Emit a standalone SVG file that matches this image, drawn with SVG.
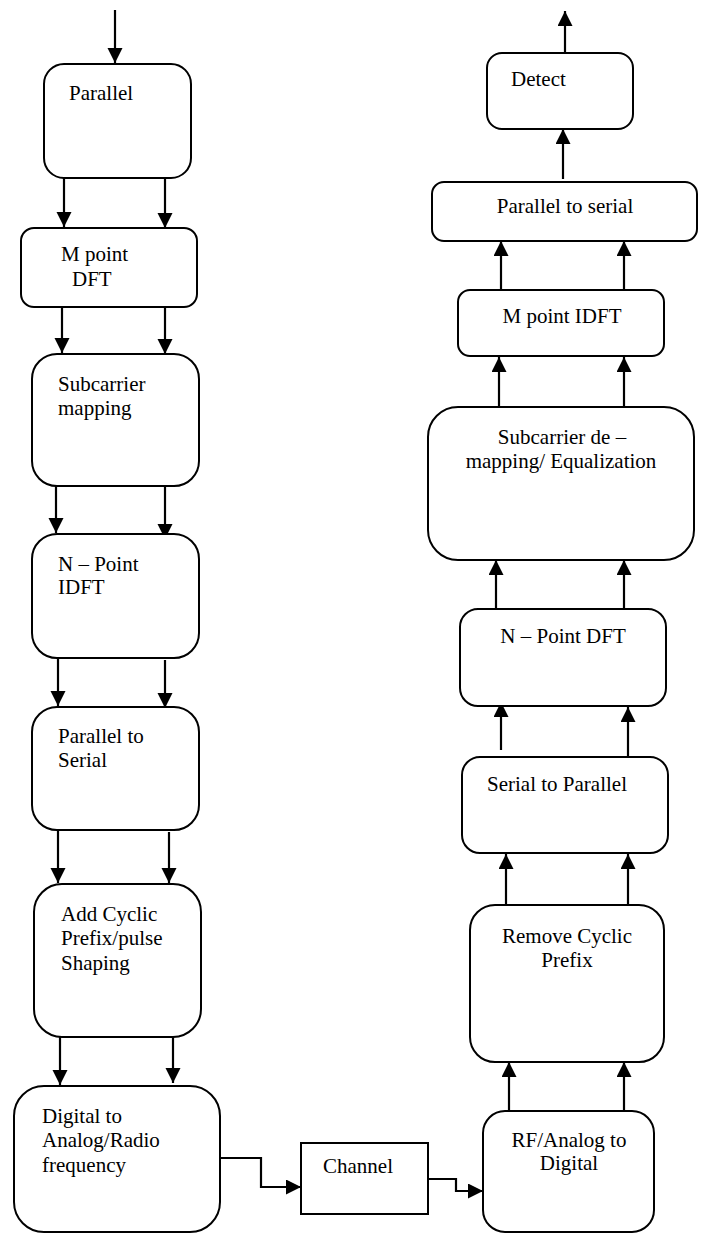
<svg xmlns="http://www.w3.org/2000/svg" width="704" height="1234" viewBox="0 0 704 1234">
<style>
.box{fill:#fff;stroke:#000;stroke-width:2}
.t{font-family:"Liberation Serif","Times New Roman",serif;font-size:21px;fill:#000}
.c{text-anchor:middle}
.ln{fill:none;stroke:#000;stroke-width:2.2}
</style>
<defs>
<marker id="ah" markerUnits="userSpaceOnUse" markerWidth="16" markerHeight="16" refX="15" refY="7.5" orient="auto">
<path d="M0,0 L15,7.5 L0,15 z" fill="#000"/>
</marker>
</defs>
<rect width="704" height="1234" fill="#fff"/>

<g id="connectors" class="conn">
<line class="ln" x1="115" y1="10" x2="115" y2="63" marker-end="url(#ah)"/>
<line class="ln" x1="64" y1="174" x2="64" y2="227" marker-end="url(#ah)"/>
<line class="ln" x1="165" y1="178" x2="165" y2="228" marker-end="url(#ah)"/>
<line class="ln" x1="62" y1="307" x2="62" y2="353" marker-end="url(#ah)"/>
<line class="ln" x1="165" y1="307" x2="165" y2="354" marker-end="url(#ah)"/>
<line class="ln" x1="56" y1="486" x2="56" y2="533" marker-end="url(#ah)"/>
<line class="ln" x1="165" y1="486" x2="165" y2="539" marker-end="url(#ah)"/>
<line class="ln" x1="58" y1="655" x2="58" y2="706" marker-end="url(#ah)"/>
<line class="ln" x1="165" y1="660" x2="165" y2="708" marker-end="url(#ah)"/>
<line class="ln" x1="58" y1="830" x2="58" y2="883" marker-end="url(#ah)"/>
<line class="ln" x1="169" y1="832" x2="169" y2="883" marker-end="url(#ah)"/>
<line class="ln" x1="60" y1="1037" x2="60" y2="1085" marker-end="url(#ah)"/>
<line class="ln" x1="173" y1="1033" x2="173" y2="1083" marker-end="url(#ah)"/>
<polyline class="ln" points="220,1158 261,1158 261,1187 301,1187" marker-end="url(#ah)"/>
<polyline class="ln" points="428,1179 456,1179 456,1191 483,1191" marker-end="url(#ah)"/>
<line class="ln" x1="509" y1="1110" x2="509" y2="1062" marker-end="url(#ah)"/>
<line class="ln" x1="624" y1="1110" x2="624" y2="1062" marker-end="url(#ah)"/>
<line class="ln" x1="506" y1="905" x2="506" y2="854" marker-end="url(#ah)"/>
<line class="ln" x1="628" y1="905" x2="628" y2="854" marker-end="url(#ah)"/>
<line class="ln" x1="501" y1="750" x2="501" y2="702" marker-end="url(#ah)"/>
<line class="ln" x1="628" y1="757" x2="628" y2="707" marker-end="url(#ah)"/>
<line class="ln" x1="496" y1="608" x2="496" y2="560" marker-end="url(#ah)"/>
<line class="ln" x1="624" y1="608" x2="624" y2="560" marker-end="url(#ah)"/>
<line class="ln" x1="499" y1="407" x2="499" y2="357" marker-end="url(#ah)"/>
<line class="ln" x1="624" y1="407" x2="624" y2="357" marker-end="url(#ah)"/>
<line class="ln" x1="501" y1="290" x2="501" y2="241" marker-end="url(#ah)"/>
<line class="ln" x1="624" y1="290" x2="624" y2="241" marker-end="url(#ah)"/>
<line class="ln" x1="563" y1="179" x2="563" y2="129" marker-end="url(#ah)"/>
<line class="ln" x1="565" y1="52" x2="565" y2="11" marker-end="url(#ah)"/>
</g>

<g id="n-parallel">
<rect class="box" x="44" y="64" width="147" height="114" rx="20"/>
<text class="t" x="69" y="100">Parallel</text>
</g>
<g id="n-mdft">
<rect class="box" x="21" y="228" width="176" height="79" rx="13"/>
<text class="t" x="61" y="261">M point</text>
<text class="t" x="72" y="286">DFT</text>
</g>
<g id="n-submap">
<rect class="box" x="32" y="354" width="167" height="132" rx="25"/>
<text class="t" x="58" y="391">Subcarrier</text>
<text class="t" x="58" y="415">mapping</text>
</g>
<g id="n-nidft">
<rect class="box" x="32" y="534" width="167" height="124" rx="25"/>
<text class="t" x="58" y="571">N – Point</text>
<text class="t" x="58" y="594">IDFT</text>
</g>
<g id="n-p2s">
<rect class="box" x="32" y="707" width="167" height="123" rx="25"/>
<text class="t" x="58" y="743">Parallel to</text>
<text class="t" x="58" y="767">Serial</text>
</g>
<g id="n-cp">
<rect class="box" x="34" y="884" width="167" height="153" rx="28"/>
<text class="t" x="61" y="921">Add Cyclic</text>
<text class="t" x="61" y="945">Prefix/pulse</text>
<text class="t" x="61" y="970">Shaping</text>
</g>
<g id="n-dac">
<rect class="box" x="14" y="1086" width="206" height="146" rx="30"/>
<text class="t" x="42" y="1123">Digital to</text>
<text class="t" x="42" y="1147">Analog/Radio</text>
<text class="t" x="42" y="1172">frequency</text>
</g>
<g id="n-channel">
<rect class="box" x="301" y="1143" width="127" height="71"/>
<text class="t" x="323" y="1173">Channel</text>
</g>
<g id="n-adc">
<rect class="box" x="483" y="1111" width="171" height="121" rx="22"/>
<text class="t c" x="569" y="1147">RF/Analog to</text>
<text class="t c" x="569" y="1170">Digital</text>
</g>
<g id="n-rmcp">
<rect class="box" x="470" y="905" width="194" height="157" rx="25"/>
<text class="t c" x="567" y="943">Remove Cyclic</text>
<text class="t c" x="567" y="967">Prefix</text>
</g>
<g id="n-s2p">
<rect class="box" x="462" y="757" width="206" height="96" rx="18"/>
<text class="t c" x="557" y="791">Serial to Parallel</text>
</g>
<g id="n-ndft">
<rect class="box" x="460" y="609" width="206" height="97" rx="18"/>
<text class="t c" x="563" y="643">N – Point DFT</text>
</g>
<g id="n-demap">
<rect class="box" x="428" y="407" width="266" height="153" rx="30"/>
<text class="t c" x="562" y="444">Subcarrier de –</text>
<text class="t c" x="561" y="468">mapping/ Equalization</text>
</g>
<g id="n-midft">
<rect class="box" x="458" y="290" width="206" height="66" rx="12"/>
<text class="t c" x="562" y="323">M point IDFT</text>
</g>
<g id="n-p2s-r">
<rect class="box" x="432" y="182" width="265" height="59" rx="12"/>
<text class="t c" x="565" y="213">Parallel to serial</text>
</g>
<g id="n-detect">
<rect class="box" x="487" y="53" width="146" height="76" rx="15"/>
<text class="t" x="511" y="86">Detect</text>
</g>
</svg>
